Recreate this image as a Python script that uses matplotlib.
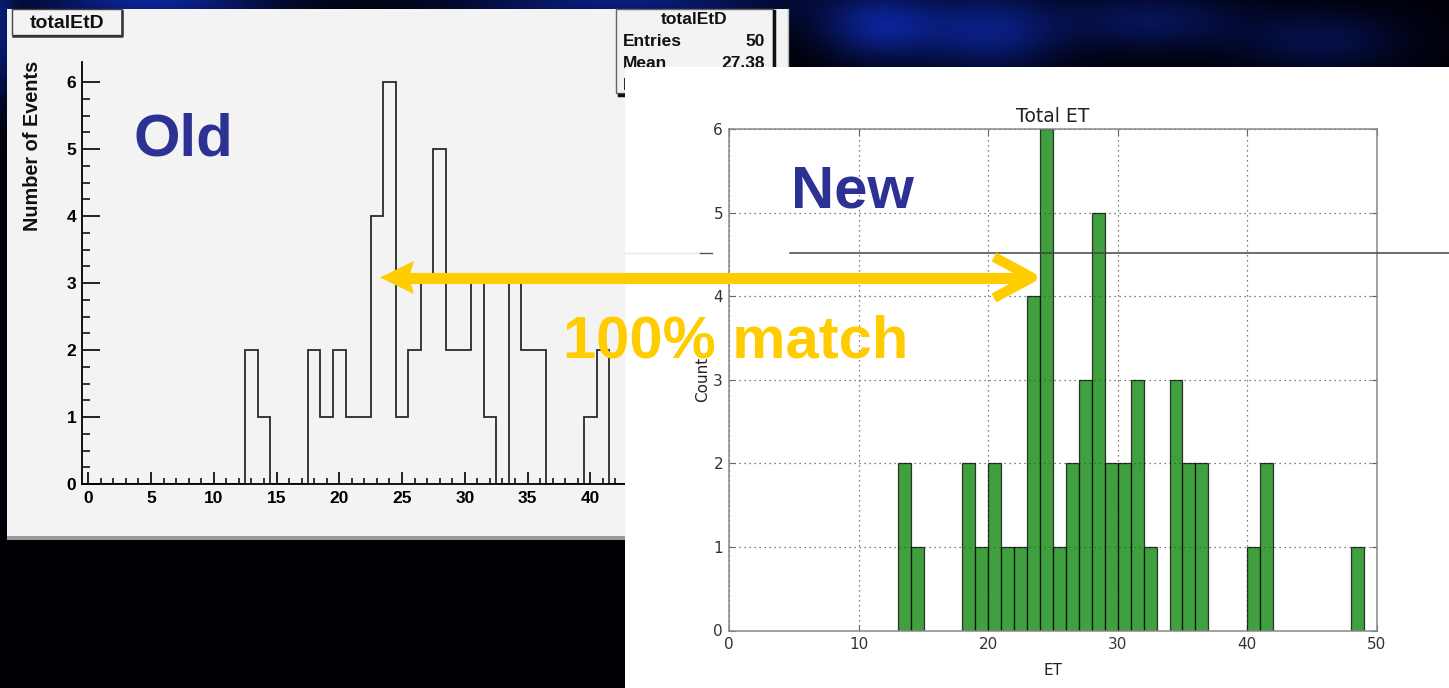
import numpy as np
import matplotlib.pyplot as plt
from matplotlib.patches import Rectangle, Polygon

W, H = 1449, 688

# histogram contents: 50 bins, one unit wide
bin_low = list(range(50))
counts = [0, 0, 0, 0, 0, 0, 0, 0, 0, 0,
          0, 0, 0, 2, 1, 0, 0, 0, 2, 1,
          2, 1, 1, 4, 6, 1, 2, 3, 5, 2,
          2, 3, 1, 0, 3, 2, 2, 0, 0, 0,
          1, 2, 0, 0, 0, 0, 0, 0, 1, 0]
old_shift = -0.5          # ROOT binning runs from -0.5 to 49.5
stats_rows = [("Entries", "50"), ("Mean", "27.38"), ("RMS", "")]
old_xticks = list(range(0, 45, 5))
new_xticks = list(range(0, 51, 10))
yticks = list(range(0, 7))

ROOT_FONT = "Liberation Sans"
SLIDE_BLUE = "#2c3194"
YELLOW = "#ffcc00"


def px(x0, y0, x1, y1):
    # pixel box (top-left origin) -> figure fraction rect
    return [x0 / W, 1 - y1 / H, (x1 - x0) / W, (y1 - y0) / H]


def overlay(z):
    a = fig.add_axes([0, 0, 1, 1], zorder=z)
    a.set_xlim(0, W)
    a.set_ylim(H, 0)
    a.axis("off")
    return a


fig = plt.figure(figsize=(W / 100, H / 100), dpi=100)

# ---- slide background
bg = overlay(0)
yy, xx = np.mgrid[0:H, 0:W]
img = np.zeros((H, W, 3))
img[..., 2] = 0.03
blobs = [(150, 0, 120, 25, 0.55), (620, 0, 160, 25, 0.45), (880, 25, 60, 35, 0.5),
         (990, 30, 70, 40, 0.45), (1150, 20, 90, 30, 0.3), (1320, 40, 80, 30, 0.25),
         (0, 40, 15, 60, 0.4)]
for cx, cy, sx, sy, amp in blobs:
    g = amp * np.exp(-(((xx - cx) / sx) ** 2 + ((yy - cy) / sy) ** 2))
    img[..., 2] += g
    img[..., 1] += 0.25 * g
    img[..., 0] += 0.08 * g
bg.imshow(np.clip(img, 0, 1), extent=(0, W, H, 0), aspect="auto")

# old ROOT canvas
bg.add_patch(Rectangle((7, 9), 781, 527, fc="#f3f3f3", ec="none"))
bg.add_patch(Rectangle((7, 536), 781, 4, fc="#9a9a9a", ec="none"))
bg.plot([788, 788], [9, 540], color="#b0b0b0", lw=1)

# ---- old histogram (ROOT style)
ax_old = fig.add_axes(px(82, 62, 709.5, 484), zorder=1)
ax_old.patch.set_visible(False)
edges = [b + old_shift for b in bin_low] + [bin_low[-1] + 1 + old_shift]
ax_old.stairs(counts, edges, baseline=0, color="#2a2a2a", lw=1.3)
ax_old.set_xlim(edges[0], edges[-1])
ax_old.set_ylim(0, 6.3)
for s in ("top", "right"):
    ax_old.spines[s].set_visible(False)
for s in ("left", "bottom"):
    ax_old.spines[s].set_linewidth(1.3)
ax_old.set_xticks(old_xticks)
ax_old.set_xticks(range(0, 50), minor=True)
ax_old.set_yticks(yticks)
ax_old.set_yticks(np.arange(0, 6.01, 0.25), minor=True)
ax_old.tick_params(axis="x", which="major", direction="in", length=9, width=1.2, pad=5)
ax_old.tick_params(axis="x", which="minor", direction="in", length=4.5, width=1.1)
ax_old.tick_params(axis="y", which="major", direction="in", length=13, width=1.2, pad=4)
ax_old.tick_params(axis="y", which="minor", direction="in", length=6, width=1.1)
for lab in ax_old.get_xticklabels() + ax_old.get_yticklabels():
    lab.set_fontfamily(ROOT_FONT)
    lab.set_fontweight("bold")
    lab.set_fontsize(12.5)
bg.text(33, 146, "Number of Events", rotation=90, ha="center", va="center",
        fontfamily=ROOT_FONT, fontweight="bold", fontsize=14.3, color="#111")

# ---- ROOT title box and stats box
mid = overlay(2)
mid.add_patch(Rectangle((12, 9), 110, 26, fc="#f3f3f3", ec="#444", lw=1))
mid.plot([122, 122, 13], [11, 35.5, 35.5], color="#333", lw=1.8)
mid.text(67, 23, "totalEtD", ha="center", va="center", fontfamily=ROOT_FONT,
         fontweight="bold", fontsize=14, color="#111")

mid.add_patch(Rectangle((616, 9), 157, 84, fc="#f3f3f3", ec="#666", lw=1))
mid.plot([774, 774, 619], [11, 94.5, 94.5], color="#111", lw=2.5)
mid.text(694, 20, "totalEtD", ha="center", va="center", fontfamily=ROOT_FONT,
         fontweight="bold", fontsize=12.5, color="#111")
for i, (name, val) in enumerate(stats_rows):
    y = 42 + 21.5 * i
    mid.text(623, y, name, ha="left", va="center", fontfamily=ROOT_FONT,
             fontweight="bold", fontsize=12.5, color="#111")
    mid.text(765, y, val, ha="right", va="center", fontfamily=ROOT_FONT,
             fontweight="bold", fontsize=12.5, color="#111")

# ---- new white slide panel, pasted over the ROOT canvas
paste = overlay(2.5)
paste.add_patch(Rectangle((625, 67), W - 625, H - 67, fc="white", ec="none"))

# ---- new histogram (matplotlib)
ax_new = fig.add_axes(px(729.3, 129, 1376.7, 630.5), zorder=3)
ax_new.patch.set_visible(False)
nz = [(b, c) for b, c in zip(bin_low, counts) if c > 0]
ax_new.bar([b for b, _ in nz], [c for _, c in nz], width=1, align="edge",
           color="green", alpha=0.75, edgecolor="black", lw=0.9)
ax_new.set_xlim(0, 50)
ax_new.set_ylim(0, 6)
ax_new.set_xticks(new_xticks)
ax_new.set_yticks(yticks)
ax_new.grid(True, color="#555", ls=(0, (1, 3)), lw=0.9)
ax_new.set_axisbelow(True)
for s in ax_new.spines.values():
    s.set_color("#888")
    s.set_linewidth(1.1)
ax_new.tick_params(direction="in", length=4, color="#666", labelsize=11,
                   labelcolor="#333", top=True, right=True, pad=4.5)
ax_new.set_title("Total ET", fontsize=13.5, color="#222", pad=5)
ax_new.set_xlabel("ET", fontsize=11, color="#222", labelpad=8)
ax_new.set_ylabel("Count", fontsize=11, color="#222", labelpad=2)

# ---- slide overlays
top = overlay(4)
top.plot([625, 700], [253, 253], color="#e6e6e6", lw=1)
top.plot([700, 712], [253, 253], color="#555", lw=1)
top.plot([790, W], [253, 253], color="#444", lw=1.1)

top.plot([406, 1028], [277.5, 277.5], color=YELLOW, lw=8, solid_capstyle="butt")
top.add_patch(Polygon([(380, 277.5), (414, 261), (409, 277.5), (414, 294)],
                      closed=True, fc=YELLOW, ec="none"))
top.plot([994, 1032, 994], [257, 277.5, 298], color=YELLOW, lw=7.2,
         solid_joinstyle="round", solid_capstyle="butt")

top.text(134, 156, "Old", ha="left", va="baseline", fontfamily=ROOT_FONT,
         fontweight="bold", fontsize=43, color=SLIDE_BLUE)
top.text(791, 208, "New", ha="left", va="baseline", fontfamily=ROOT_FONT,
         fontweight="bold", fontsize=43, color=SLIDE_BLUE)
top.text(736, 358, "100% match", ha="center", va="baseline", fontfamily=ROOT_FONT,
         fontweight="bold", fontsize=43, color=YELLOW)

fig.savefig("out.png", dpi=100)
